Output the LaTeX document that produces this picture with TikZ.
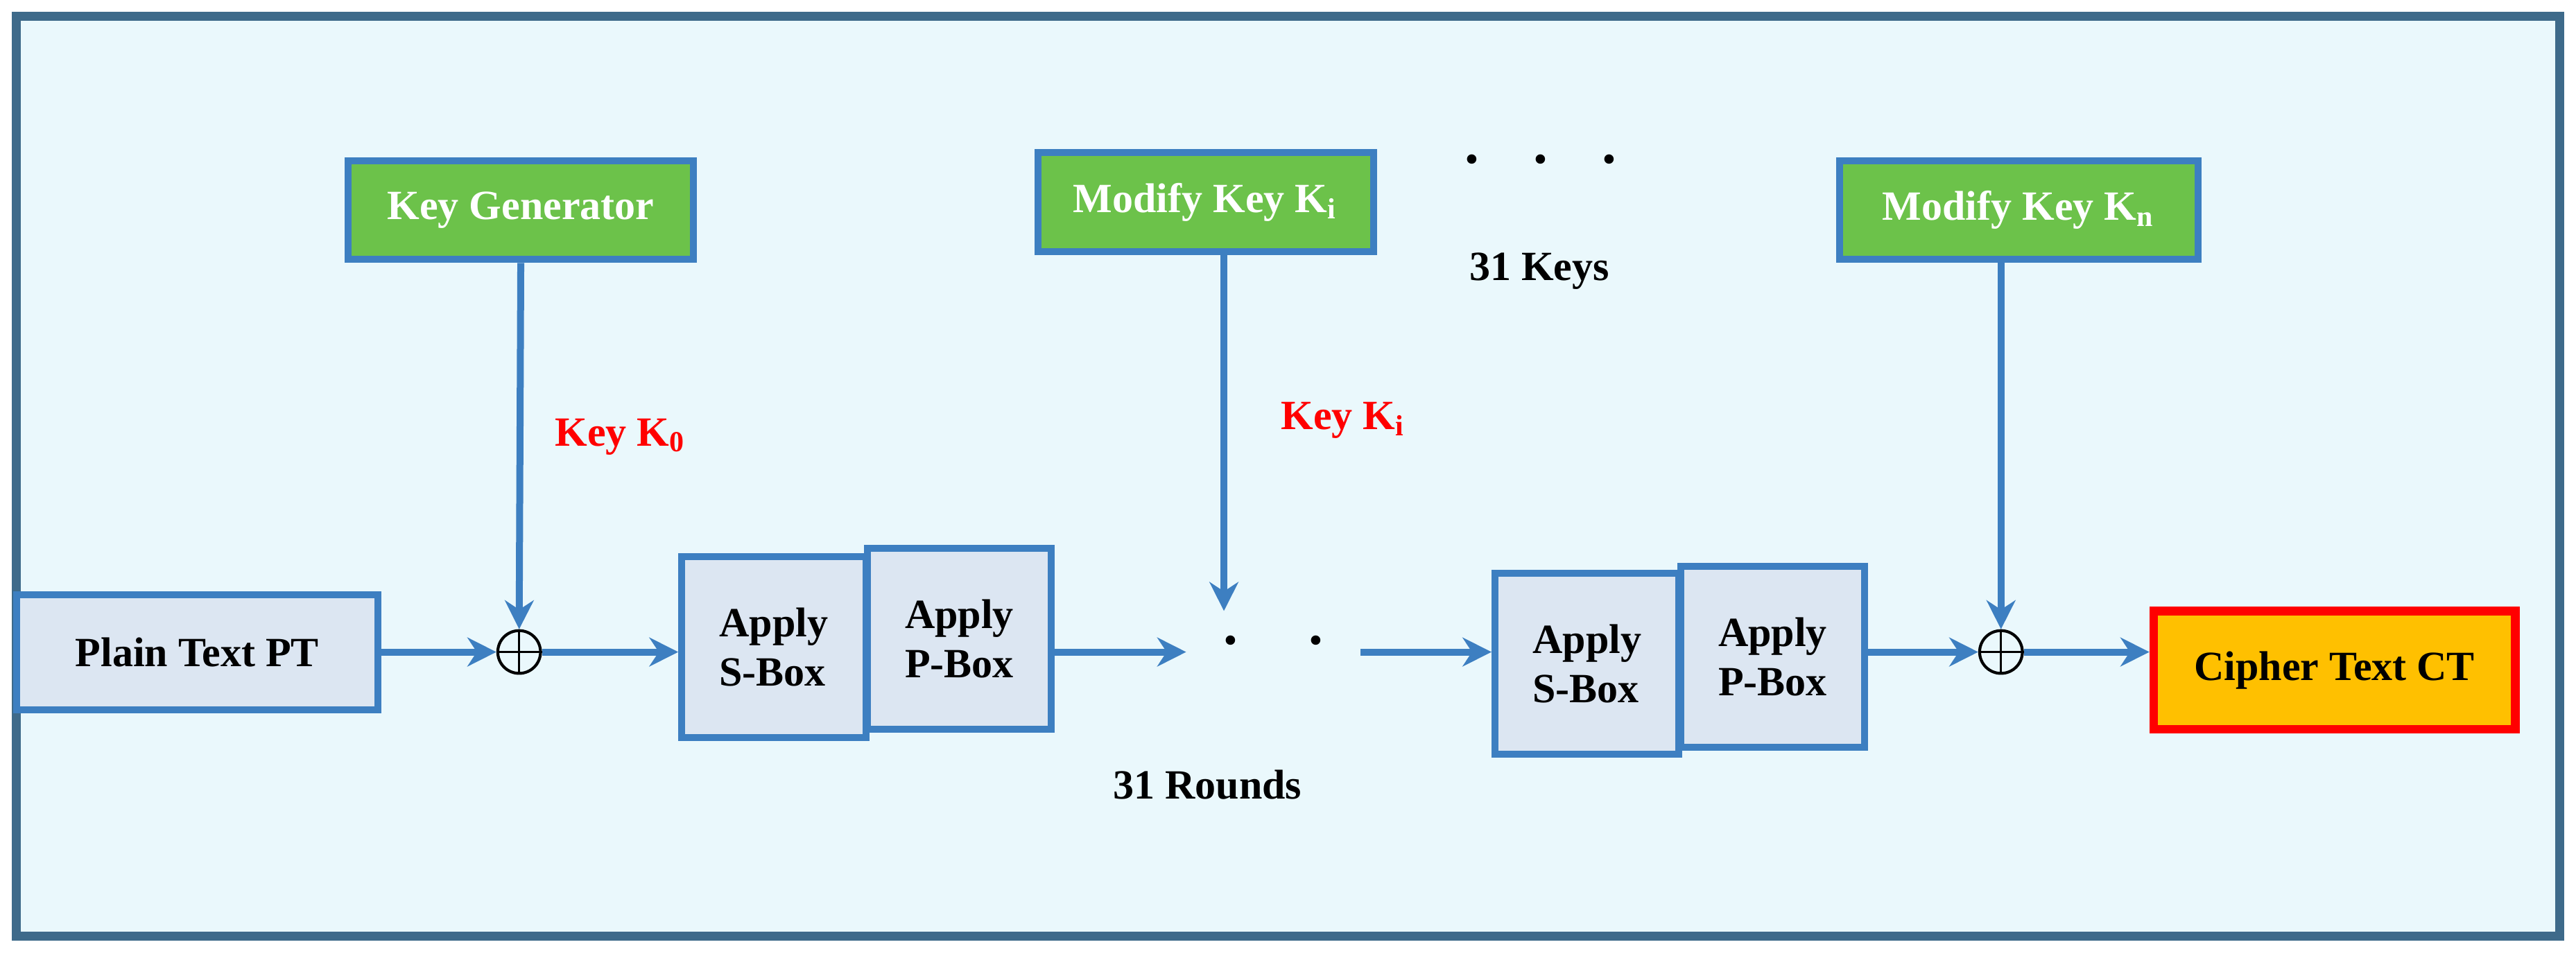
\documentclass[tikz,border=0pt]{standalone}
\usepackage{fontspec}
\setmainfont{Liberation Serif}
\usetikzlibrary{arrows.meta}
\definecolor{bg}{HTML}{EAF8FC}
\definecolor{frame}{HTML}{3E6A8A}
\definecolor{grn}{HTML}{6CC24A}
\definecolor{blu}{HTML}{3D7FC1}
\definecolor{boxf}{HTML}{DCE6F2}
\definecolor{org}{HTML}{FFC000}
\begin{document}
\begin{tikzpicture}[x=0.01cm,y=-0.01cm,
  txt/.style={font=\fontsize{7.2}{8.5}\selectfont\bfseries},
  key/.style={txt,draw=blu,line width=1.2pt,fill=grn,text=white,minimum height=0.6cm,inner sep=2pt},
  pbox/.style={txt,draw=blu,line width=1.2pt,fill=boxf,align=left,minimum width=1.12cm,minimum height=1.1cm},
  arr/.style={blu,line width=1.2pt,-{Stealth[length=5pt,width=5pt]}},
  xr/.style={circle,draw=black,line width=0.5pt,minimum size=0.26cm,inner sep=0pt,fill=bg}]
\useasboundingbox (0,0) rectangle (1568,583);
\draw[frame,line width=1.5pt,fill=bg] (10,10) rectangle (1558,570);
\node[key,minimum width=2.1cm] (kg) at (317,128) {Key Generator};
\node[key,minimum width=2.04cm] (mk) at (734,123) {Modify Key K\textsubscript{i}};
\node[key,minimum width=2.18cm] (mn) at (1229,128) {Modify Key K\textsubscript{n}};
\node[txt,font=\fontsize{10}{10}\selectfont\bfseries] (dd) at (938,97) {.\hspace{0.33cm}.\hspace{0.33cm}.};
\node[txt] (k31) at (937,165) {31 Keys};
\node[txt,text=red] (k0) at (378,266) {Key K\textsubscript{0}};
\node[txt,text=red] (ki) at (818,256) {Key K\textsubscript{i}};
\node[txt,draw=blu,line width=1.2pt,fill=boxf,minimum width=2.2cm,minimum height=0.7cm] (pt) at (120,397) {Plain Text PT};
\node[xr] (x1) at (316,397) {};
\draw (x1.north)--(x1.south) (x1.west)--(x1.east);
\node[pbox] (s1) at (471,394) {Apply\\S-Box};
\node[pbox] (p1) at (584,389) {Apply\\P-Box};
\node[txt,font=\fontsize{10}{10}\selectfont\bfseries] (rd) at (775,390) {.\hspace{0.43cm}.};
\coordinate (r1) at (722,397);
\coordinate (r2) at (828,397);
\node[txt] (r31) at (735,478) {31 Rounds};
\node[pbox] (s2) at (966,404) {Apply\\S-Box};
\node[pbox] (p2) at (1079,400) {Apply\\P-Box};
\node[xr] (x2) at (1218,397) {};
\draw (x2.north)--(x2.south) (x2.west)--(x2.east);
\node[txt,draw=red,line width=1.5pt,fill=org,minimum width=2.2cm,minimum height=0.72cm] (ct) at (1421,408) {Cipher Text CT};
\coordinate (ke) at (745,372);
\draw[arr] (kg.south)--(x1.north);
\draw[arr] (pt.east)--(x1.west);
\draw[arr] (x1.east)--(s1.west|-x1);
\draw[arr] (p1.east|-r1)--(r1);
\draw[arr] (mk.south-|ke)--(ke);
\draw[arr] (r2)--(s2.west|-r2);
\draw[arr] (p2.east|-x2)--(x2.west);
\draw[arr] (mn.south-|x2)--(x2.north);
\draw[arr] (x2.east)--(ct.west|-x2);
\end{tikzpicture}
\end{document}
